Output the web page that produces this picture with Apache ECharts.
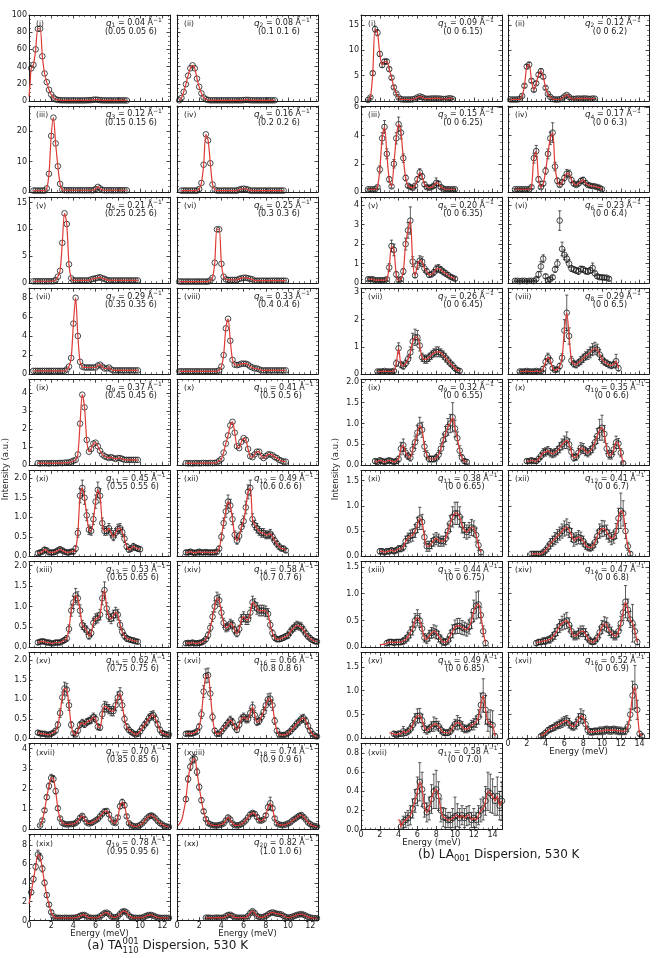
<!DOCTYPE html>
<html><head><meta charset="utf-8">
<script src="https://cdn.jsdelivr.net/npm/echarts@6/dist/echarts.min.js"></script>
<style>html,body{margin:0;padding:0;background:#fff}#c{width:658px;height:958px}</style>
</head><body><div id="c"></div>
<script>
// ================= DATA =================
// Energy grids: panel (a) points every 0.2 meV, panel (b) every 0.25 meV, starting at aStart / bStart
const aStep = 0.2, bStep = 0.25;
const aStart = [0.2,0.2,0.4,0.4,0.4,0.2,0.4,0.2,0.8,0.8,0.8,0.8,0.8,0.8,0.8,0.8,1.0,0.8,0.2,2.6];
const bStart = [0.75,0.25,0.75,0.75,0.75,0.75,1.75,1.25,1.5,2.0,2.0,2.5,2.75,3.0,3.5,3.5,4.25];

// (a) TA dispersion intensities
const a01 = [38,42,60,84,84,52,32,22,13,7.5,4,2,1.2,0.9,0.8,0.8,0.7,0.7,0.7,0.7,0.7,0.7,0.7,0.7,0.7,0.8,0.9,1.0,1.4,1.6,1.4,1.0,0.8,0.7,0.7,0.7,0.7,0.7,0.7,0.7,0.7,0.7,0.7,0.6];
const a02 = [0.8,3.5,10.5,19.5,29.5,38,41.5,38,26,16.5,9,4,2,1.2,0.8,0.8,0.8,0.8,0.8,0.8,0.8,0.8,0.8,0.8,0.8,0.8,0.8,0.8,0.8,1.0,1.3,1.2,0.9,0.8,0.8,0.8,0.8,0.8,0.8,0.8,0.8,0.8,0.8,0.8];
const a03 = [0.5,0.5,0.5,0.5,0.5,0.5,1.2,6,18.5,24.5,16,8.5,2.7,0.8,0.6,0.6,0.6,0.6,0.6,0.6,0.6,0.6,0.6,0.6,0.6,0.6,0.6,0.6,1.0,1.7,1.2,0.7,0.6,0.6,0.6,0.6,0.6,0.6,0.6,0.6,0.6,0.6,0.6];
const a04 = [0.5,0.5,0.5,0.5,0.5,0.5,0.5,0.5,1.0,3,9,19,17,9.5,2.5,0.8,0.5,0.5,0.5,0.5,0.5,0.5,0.5,0.5,0.5,0.5,0.8,1.0,1.1,1.0,0.8,0.5,0.5,0.5,0.5,0.5,0.5,0.5,0.5,0.5,0.5,0.5,0.5,0.5,0.5,0.5,0.5];
const a05 = [0.35,0.35,0.35,0.35,0.35,0.35,0.35,0.35,0.35,0.35,0.6,1.2,2.3,7.5,13,11,3.5,0.9,0.5,0.5,0.5,0.5,0.5,0.5,0.5,0.5,0.7,0.8,0.9,1.0,1.1,0.9,0.8,0.6,0.5,0.5,0.5,0.5,0.5,0.5,0.5,0.5,0.5,0.5,0.5,0.5,0.5,0.5];
const a06 = [0.3,0.3,0.3,0.3,0.3,0.3,0.3,0.3,0.3,0.3,0.3,0.3,0.3,0.3,0.5,1.0,3.8,10,10,3.6,1.2,0.7,0.6,0.6,0.6,0.6,0.6,0.8,0.9,1.0,1.0,0.9,0.8,0.7,0.45,0.45,0.45,0.45,0.45,0.45,0.45,0.45,0.45,0.45,0.45,0.45,0.45,0.45,0.45];
const a07 = [0.35,0.35,0.35,0.35,0.35,0.35,0.35,0.35,0.35,0.35,0.35,0.35,0.35,0.35,0.35,0.5,0.8,1.7,5.3,8,4,1.3,0.8,0.7,0.7,0.7,0.7,0.7,0.7,0.9,1.0,0.8,0.6,0.6,0.7,0.5,0.4,0.4,0.4,0.4,0.4,0.4,0.4,0.4,0.4,0.4,0.4,0.4];
const a08 = [0.3,0.3,0.3,0.3,0.3,0.3,0.3,0.3,0.3,0.3,0.3,0.3,0.3,0.3,0.3,0.3,0.3,0.3,0.4,0.8,2,4.8,5.8,3.5,1.5,1.0,0.95,1.0,1.1,1.1,1.1,1.0,0.8,0.7,0.6,0.6,0.5,0.4,0.4,0.4,0.4,0.4,0.4,0.4,0.4,0.4,0.4,0.4,0.4];
const a09 = [0.12,0.1,0.12,0.11,0.12,0.1,0.12,0.12,0.11,0.12,0.13,0.12,0.14,0.15,0.15,0.2,0.25,0.3,0.6,2.3,3.9,3.2,1.4,0.75,0.9,1.2,1.25,1.05,0.8,0.6,0.5,0.45,0.4,0.45,0.4,0.35,0.4,0.4,0.35,0.3,0.3,0.3,0.3,0.3,0.3,0.3];
const a10 = [0.12,0.11,0.12,0.1,0.12,0.12,0.11,0.12,0.13,0.12,0.12,0.13,0.12,0.13,0.15,0.25,0.35,0.7,1.2,1.65,2.2,2.4,1.8,1.05,0.95,1.3,1.5,1.4,0.9,0.5,0.45,0.6,0.75,0.75,0.5,0.4,0.5,0.6,0.6,0.55,0.45,0.4,0.3,0.25,0.2,0.2];
const a11 = [0.08,0.1,0.12,0.17,0.15,0.1,0.1,0.1,0.12,0.15,0.18,0.15,0.12,0.1,0.1,0.12,0.12,0.2,0.6,1.55,1.75,1.5,1.05,0.68,0.65,0.95,1.4,1.7,1.55,0.85,0.65,0.65,0.72,0.6,0.5,0.6,0.7,0.72,0.62,0.45,0.25,0.17,0.2,0.25,0.22,0.2,0.18];
const a12 = [0.1,0.1,0.12,0.1,0.09,0.1,0.12,0.1,0.1,0.11,0.1,0.1,0.1,0.1,0.12,0.2,0.5,0.85,1.15,1.4,1.3,0.95,0.55,0.4,0.52,0.75,0.9,1.25,1.65,1.75,0.95,0.8,0.72,0.65,0.6,0.6,0.55,0.55,0.58,0.5,0.4,0.32,0.25,0.2,0.2,0.15];
const a13 = [0.12,0.14,0.15,0.14,0.12,0.12,0.1,0.1,0.12,0.12,0.12,0.15,0.18,0.22,0.45,0.9,1.1,1.27,1.2,0.9,0.55,0.48,0.42,0.28,0.35,0.6,0.7,0.72,0.8,1.2,1.4,0.95,0.75,0.7,0.78,0.85,0.8,0.55,0.38,0.28,0.22,0.2,0.18,0.17,0.15,0.14];
const a14 = [0.1,0.11,0.1,0.12,0.1,0.1,0.11,0.12,0.15,0.2,0.3,0.48,0.75,1.0,1.2,1.15,0.85,0.6,0.48,0.5,0.58,0.55,0.42,0.34,0.45,0.68,0.75,0.68,0.68,0.85,1.1,1.05,0.95,0.9,0.9,0.9,0.88,0.82,0.55,0.35,0.24,0.2,0.2,0.22,0.24,0.27,0.3,0.38,0.45,0.5,0.54,0.52,0.5,0.42,0.34,0.27,0.22,0.18,0.15,0.14];
const a15 = [0.15,0.13,0.12,0.12,0.1,0.1,0.12,0.15,0.2,0.35,0.65,1.05,1.28,1.25,0.85,0.35,0.13,0.1,0.2,0.35,0.4,0.36,0.42,0.45,0.48,0.55,0.5,0.3,0.28,0.62,0.82,0.8,0.75,0.7,0.7,0.85,1.05,1.15,0.85,0.5,0.3,0.22,0.17,0.13,0.1,0.12,0.18,0.27,0.35,0.42,0.52,0.58,0.6,0.5,0.36,0.22,0.14,0.12,0.1,0.1];
const a16 = [0.12,0.13,0.12,0.13,0.15,0.18,0.3,0.62,1.2,1.6,1.62,1.15,0.55,0.2,0.12,0.12,0.18,0.26,0.33,0.4,0.47,0.42,0.3,0.22,0.35,0.5,0.55,0.5,0.5,0.65,0.8,0.6,0.42,0.45,0.55,0.68,0.85,1.0,1.02,0.85,0.45,0.2,0.1,0.09,0.09,0.1,0.14,0.18,0.25,0.31,0.38,0.43,0.5,0.52,0.45,0.32,0.2,0.12,0.07,0.05];
const a17 = [0.2,0.45,0.95,1.6,2.15,2.55,2.5,1.9,1.05,0.55,0.33,0.27,0.25,0.26,0.27,0.28,0.32,0.42,0.58,0.68,0.52,0.35,0.3,0.32,0.38,0.45,0.52,0.65,0.78,0.9,0.92,0.75,0.5,0.35,0.32,0.6,1.15,1.35,1.2,0.65,0.32,0.22,0.17,0.15,0.17,0.22,0.3,0.42,0.55,0.65,0.7,0.65,0.55,0.42,0.32,0.25,0.18,0.15,0.13];
const a18 = [1.5,2.5,3.1,3.45,3.5,2.85,2.1,1.45,0.9,0.52,0.32,0.26,0.22,0.2,0.2,0.22,0.25,0.3,0.45,0.6,0.5,0.3,0.22,0.2,0.22,0.27,0.35,0.45,0.6,0.75,0.82,0.78,0.62,0.45,0.44,0.5,0.7,1.1,1.3,1.05,0.55,0.3,0.25,0.22,0.22,0.25,0.3,0.35,0.45,0.52,0.6,0.68,0.72,0.62,0.5,0.35,0.27,0.2,0.17,0.15];
const a19 = [3.0,4.4,5.7,7.0,6.7,5.5,4.0,2.7,1.7,0.9,0.45,0.32,0.3,0.3,0.28,0.3,0.3,0.28,0.3,0.3,0.32,0.38,0.5,0.6,0.6,0.45,0.32,0.3,0.28,0.3,0.32,0.45,0.62,0.8,0.85,0.7,0.45,0.35,0.35,0.45,0.7,0.95,1.0,0.85,0.55,0.38,0.3,0.3,0.28,0.3,0.32,0.42,0.52,0.6,0.6,0.52,0.42,0.33,0.3,0.28,0.3,0.28,0.3];
const a20 = [0.3,0.32,0.3,0.28,0.3,0.32,0.3,0.3,0.32,0.45,0.6,0.62,0.5,0.35,0.32,0.3,0.32,0.3,0.32,0.5,0.8,1.0,0.8,0.5,0.38,0.35,0.4,0.5,0.65,0.8,0.87,0.8,0.72,0.7,0.65,0.5,0.38,0.32,0.35,0.42,0.5,0.6,0.65,0.7,0.62,0.52,0.4,0.32,0.28,0.25,0.25];

// fitted curve read below the first measured point: [energy, intensity]
const a01fitLead = [[0, 5], [0.1, 20]];
const a18fitLead = [[0.1, 0.2], [0.4, 0.45], [0.6, 0.9]];
const a19fitLead = [[0, 1.8]];

// (a) error bars (panels xi-xx)
const a11err = [0.05,0.05,0.05,0.06,0.06,0.05,0.05,0.05,0.05,0.06,0.06,0.06,0.05,0.05,0.05,0.05,0.05,0.07,0.11,0.18,0.2,0.17,0.14,0.12,0.11,0.14,0.17,0.2,0.18,0.13,0.11,0.11,0.12,0.11,0.1,0.11,0.12,0.12,0.11,0.1,0.07,0.06,0.07,0.08,0.07,0.07,0.06];
const a12err = [0.05,0.05,0.05,0.05,0.05,0.05,0.05,0.05,0.05,0.05,0.05,0.05,0.05,0.05,0.05,0.06,0.1,0.13,0.15,0.17,0.16,0.14,0.1,0.09,0.1,0.12,0.13,0.16,0.18,0.2,0.14,0.12,0.12,0.11,0.11,0.11,0.1,0.1,0.11,0.1,0.09,0.08,0.07,0.06,0.06,0.05];
const a13err = [0.05,0.05,0.05,0.05,0.05,0.05,0.04,0.04,0.05,0.05,0.05,0.05,0.06,0.07,0.1,0.14,0.15,0.17,0.16,0.14,0.11,0.1,0.1,0.08,0.09,0.11,0.12,0.12,0.13,0.16,0.2,0.14,0.12,0.12,0.13,0.13,0.13,0.11,0.09,0.08,0.07,0.06,0.06,0.06,0.05,0.05];
const a14err = [0.05,0.05,0.05,0.05,0.05,0.05,0.05,0.05,0.05,0.06,0.08,0.1,0.12,0.14,0.15,0.15,0.13,0.11,0.1,0.1,0.11,0.1,0.09,0.08,0.09,0.12,0.12,0.12,0.12,0.13,0.15,0.14,0.14,0.13,0.13,0.13,0.13,0.13,0.1,0.08,0.07,0.06,0.06,0.07,0.07,0.07,0.08,0.09,0.09,0.1,0.1,0.1,0.1,0.09,0.08,0.07,0.07,0.06,0.05,0.05];
const a15err = [0.05,0.05,0.05,0.05,0.04,0.04,0.05,0.05,0.06,0.08,0.11,0.14,0.16,0.16,0.13,0.08,0.05,0.04,0.06,0.08,0.09,0.08,0.09,0.09,0.1,0.1,0.1,0.08,0.07,0.11,0.13,0.13,0.12,0.12,0.12,0.13,0.14,0.15,0.13,0.1,0.08,0.07,0.06,0.05,0.04,0.05,0.06,0.07,0.08,0.09,0.1,0.11,0.11,0.1,0.08,0.07,0.05,0.05,0.04,0.04];
const a16err = [0.05,0.05,0.05,0.05,0.05,0.06,0.08,0.11,0.15,0.18,0.18,0.15,0.1,0.06,0.05,0.05,0.06,0.07,0.08,0.09,0.1,0.09,0.08,0.07,0.08,0.1,0.1,0.1,0.1,0.11,0.13,0.11,0.09,0.09,0.1,0.12,0.13,0.14,0.14,0.13,0.09,0.06,0.04,0.04,0.04,0.04,0.05,0.06,0.07,0.08,0.09,0.09,0.1,0.1,0.09,0.08,0.06,0.05,0.04,0.03];
const a17err = [0.04,0.06,0.09,0.12,0.15,0.18,0.17,0.14,0.1,0.07,0.06,0.05,0.05,0.05,0.05,0.05,0.06,0.06,0.08,0.08,0.07,0.06,0.05,0.06,0.06,0.07,0.07,0.08,0.09,0.1,0.1,0.09,0.07,0.06,0.06,0.08,0.12,0.15,0.13,0.08,0.06,0.05,0.04,0.04,0.04,0.05,0.05,0.06,0.07,0.08,0.09,0.08,0.07,0.06,0.05,0.05,0.04,0.04,0.04];
const a18err = [0.12,0.16,0.18,0.2,0.2,0.18,0.15,0.12,0.1,0.07,0.06,0.05,0.05,0.05,0.05,0.05,0.05,0.06,0.07,0.08,0.07,0.06,0.05,0.05,0.05,0.05,0.06,0.07,0.08,0.09,0.09,0.09,0.08,0.07,0.07,0.07,0.09,0.15,0.3,0.12,0.08,0.06,0.05,0.05,0.05,0.05,0.06,0.06,0.07,0.07,0.08,0.08,0.09,0.08,0.07,0.06,0.05,0.05,0.04,0.04];
const a19err = [0.25,0.3,0.35,0.45,0.4,0.35,0.3,0.25,0.2,0.15,0.1,0.08,0.08,0.08,0.08,0.08,0.08,0.08,0.08,0.08,0.08,0.09,0.1,0.11,0.11,0.1,0.08,0.08,0.08,0.08,0.08,0.1,0.11,0.13,0.13,0.12,0.1,0.09,0.09,0.1,0.12,0.15,0.15,0.13,0.11,0.09,0.08,0.08,0.08,0.08,0.08,0.09,0.1,0.11,0.11,0.1,0.09,0.08,0.08,0.08,0.08,0.08,0.08];
const a20err = [0.08,0.08,0.08,0.08,0.08,0.08,0.08,0.08,0.08,0.1,0.11,0.11,0.1,0.09,0.08,0.08,0.08,0.08,0.08,0.1,0.12,0.14,0.12,0.1,0.09,0.09,0.09,0.1,0.11,0.12,0.13,0.12,0.12,0.11,0.11,0.1,0.09,0.08,0.09,0.09,0.1,0.11,0.11,0.12,0.11,0.1,0.09,0.08,0.08,0.07,0.07];

// (b) LA dispersion intensities
const b01 = [0.2,0.7,5.5,14.2,13.5,9.3,7.1,7.8,7.8,6.3,4.6,2.7,1.5,0.7,0.35,0.3,0.3,0.3,0.3,0.35,0.45,0.7,0.9,0.75,0.5,0.45,0.45,0.5,0.5,0.5,0.5,0.45,0.4,0.4,0.5,0.55,0.4];
const b02 = [0.3,0.3,0.3,0.3,0.4,1.0,3.0,6.8,7.2,4.0,2.2,3.5,5.2,5.9,4.8,2.6,1.4,0.8,0.4,0.3,0.3,0.35,0.5,0.9,1.2,0.8,0.45,0.4,0.45,0.5,0.45,0.5,0.5,0.45,0.4,0.5,0.45];
const b03 = [0.2,0.2,0.2,0.2,0.35,1.6,3.8,4.6,2.7,0.9,0.4,2.0,3.8,4.8,4.2,2.4,1.0,0.45,0.35,0.3,0.45,0.9,1.4,1.1,0.55,0.35,0.3,0.35,0.45,0.65,0.6,0.35,0.25,0.2,0.2,0.2,0.2,0.2];
const b04 = [0.2,0.2,0.2,0.2,0.2,0.2,0.2,0.35,2.4,2.9,0.9,0.35,0.6,1.5,2.7,3.8,4.2,1.8,0.8,0.5,0.7,1.0,1.3,1.3,0.85,0.6,0.5,0.6,0.78,0.85,0.65,0.5,0.45,0.42,0.4,0.35,0.3,0.2];
const b05 = [0.2,0.2,0.2,0.15,0.15,0.15,0.15,0.15,0.2,0.8,1.9,1.7,0.45,0.15,0.2,0.6,2.0,2.7,3.2,1.1,0.4,0.9,1.15,1.1,0.75,0.6,0.42,0.45,0.55,0.72,0.75,0.68,0.58,0.5,0.42,0.33,0.28,0.22];
const b06 = [0.12,0.12,0.1,0.12,0.12,0.1,0.12,0.12,0.1,0.2,0.45,0.85,1.25,0.35,0.15,0.2,0.3,0.7,1.0,3.2,1.75,1.45,1.25,1.0,0.75,0.7,0.65,0.6,0.72,0.7,0.62,0.6,0.65,0.78,0.5,0.35,0.3,0.3,0.28,0.28,0.22];
const b07 = [0.1,0.1,0.1,0.12,0.1,0.1,0.1,0.12,0.4,0.95,0.35,0.3,0.4,0.55,0.8,1.2,1.35,1.35,1.05,0.62,0.55,0.55,0.62,0.7,0.78,0.82,0.82,0.78,0.7,0.6,0.5,0.4,0.32,0.22,0.15,0.12];
const b08 = [0.1,0.1,0.1,0.12,0.1,0.1,0.1,0.12,0.1,0.1,0.2,0.45,0.62,0.5,0.22,0.15,0.18,0.3,0.6,1.6,2.25,1.4,0.5,0.38,0.35,0.42,0.5,0.58,0.67,0.72,0.8,0.9,0.95,0.9,0.72,0.55,0.45,0.4,0.35,0.32,0.35,0.48,0.22];
const b09 = [0.1,0.08,0.12,0.1,0.08,0.1,0.12,0.1,0.08,0.1,0.15,0.4,0.48,0.3,0.22,0.18,0.38,0.55,0.78,0.95,0.85,0.45,0.25,0.15,0.15,0.15,0.18,0.25,0.4,0.6,0.75,0.92,1.0,1.15,0.88,0.65,0.35,0.18,0.1,0.08];
const b10 = [0.1,0.1,0.12,0.1,0.1,0.15,0.22,0.3,0.32,0.35,0.3,0.28,0.3,0.35,0.42,0.5,0.55,0.6,0.5,0.32,0.18,0.2,0.3,0.42,0.4,0.33,0.3,0.35,0.42,0.55,0.7,0.85,0.9,0.75,0.4,0.25,0.25,0.38,0.55,0.52,0.3,0.05];
const b11 = [0.1,0.1,0.08,0.1,0.1,0.12,0.1,0.12,0.15,0.15,0.18,0.3,0.36,0.4,0.42,0.5,0.62,0.75,0.68,0.38,0.2,0.2,0.25,0.32,0.35,0.32,0.3,0.3,0.35,0.5,0.65,0.78,0.85,0.85,0.78,0.62,0.52,0.48,0.52,0.57,0.55,0.42,0.22,0.08];
const b12 = [0.05,0.05,0.05,0.05,0.05,0.08,0.12,0.18,0.25,0.3,0.35,0.4,0.45,0.5,0.55,0.58,0.52,0.42,0.32,0.35,0.38,0.36,0.3,0.22,0.18,0.17,0.2,0.28,0.4,0.5,0.55,0.55,0.48,0.4,0.35,0.38,0.5,0.75,0.9,0.85,0.5,0.2,0.05];
const b13 = [0.08,0.1,0.1,0.09,0.1,0.1,0.1,0.12,0.15,0.2,0.28,0.35,0.5,0.55,0.5,0.35,0.18,0.15,0.22,0.27,0.3,0.28,0.2,0.15,0.1,0.1,0.13,0.22,0.3,0.38,0.4,0.4,0.37,0.35,0.33,0.38,0.5,0.68,0.78,0.8,0.6,0.3,0.08];
const b14 = [0.08,0.1,0.1,0.12,0.12,0.14,0.15,0.2,0.25,0.32,0.4,0.45,0.48,0.5,0.42,0.3,0.22,0.22,0.26,0.3,0.3,0.25,0.17,0.12,0.1,0.12,0.18,0.28,0.38,0.44,0.42,0.32,0.28,0.22,0.22,0.3,0.45,0.65,0.85,0.7,0.52,0.45,0.3,0.1];
const b15 = [0.1,0.08,0.1,0.1,0.15,0.12,0.15,0.2,0.28,0.4,0.47,0.48,0.38,0.22,0.17,0.2,0.25,0.3,0.3,0.26,0.18,0.13,0.12,0.12,0.15,0.22,0.3,0.33,0.32,0.25,0.2,0.2,0.22,0.28,0.3,0.35,0.45,0.7,0.9,0.6,0.35,0.3,0.28,0.05];
const b16 = [0.05,0.08,0.12,0.17,0.2,0.22,0.25,0.28,0.3,0.33,0.36,0.38,0.32,0.26,0.25,0.3,0.4,0.47,0.45,0.3,0.17,0.14,0.14,0.15,0.15,0.16,0.16,0.17,0.18,0.17,0.17,0.18,0.17,0.16,0.16,0.15,0.16,0.25,0.5,0.9,1.08,0.6,0.1,0.05];
const b17 = [0.03,0.08,0.1,0.12,0.15,0.22,0.3,0.4,0.5,0.42,0.25,0.18,0.22,0.32,0.4,0.42,0.35,0.2,0.13,0.12,0.1,0.1,0.12,0.14,0.15,0.12,0.15,0.12,0.14,0.15,0.1,0.12,0.1,0.15,0.2,0.22,0.3,0.4,0.38,0.35,0.3,0.35,0.25,0.3];

// fitted curve read before the first measured point: [energy, intensity]
const b13fitLead = [[2.0, 0.05], [2.5, 0.06]];
const b15fitLead = [[3.0, 0.12], [3.25, 0.11]];
const b17fitLead = [[3.9, 0.1], [4.1, 0.1]];

// (b) error bars
const b01err = [0.1,0.2,0.4,0.6,0.6,0.5,0.45,0.45,0.45,0.4,0.35,0.3,0.2,0.15,0.1,0.1,0.1,0.1,0.1,0.1,0.12,0.15,0.17,0.15,0.12,0.12,0.12,0.12,0.12,0.12,0.12,0.12,0.11,0.11,0.12,0.12,0.11];
const b02err = [0.1,0.1,0.1,0.1,0.12,0.2,0.3,0.4,0.45,0.35,0.3,0.35,0.4,0.45,0.4,0.3,0.2,0.15,0.12,0.1,0.1,0.1,0.12,0.15,0.18,0.15,0.12,0.12,0.12,0.12,0.12,0.12,0.12,0.12,0.11,0.12,0.12];
const b03err = [0.05,0.05,0.05,0.05,0.08,0.25,0.4,0.45,0.35,0.2,0.12,0.3,0.4,0.5,0.45,0.3,0.2,0.12,0.1,0.1,0.12,0.2,0.25,0.2,0.15,0.1,0.1,0.1,0.12,0.35,0.15,0.1,0.08,0.07,0.07,0.07,0.07,0.07];
const b04err = [0.05,0.05,0.05,0.05,0.05,0.05,0.05,0.1,0.35,0.4,0.2,0.1,0.15,0.25,0.35,0.45,0.7,0.3,0.2,0.12,0.15,0.2,0.3,0.25,0.2,0.15,0.12,0.15,0.2,0.2,0.15,0.12,0.12,0.12,0.1,0.1,0.1,0.08];
const b05err = [0.07,0.07,0.07,0.06,0.06,0.06,0.06,0.06,0.07,0.2,0.3,0.3,0.15,0.06,0.07,0.15,0.3,0.4,0.7,0.25,0.12,0.2,0.25,0.25,0.2,0.15,0.12,0.12,0.15,0.2,0.2,0.18,0.16,0.15,0.12,0.1,0.1,0.08];
const b06err = [0.04,0.04,0.04,0.04,0.04,0.04,0.04,0.04,0.04,0.08,0.15,0.25,0.2,0.1,0.06,0.08,0.1,0.15,0.2,0.5,0.35,0.25,0.2,0.2,0.15,0.15,0.15,0.15,0.15,0.15,0.15,0.15,0.15,0.25,0.12,0.1,0.1,0.1,0.1,0.08,0.08];
const b07err = [0.05,0.05,0.05,0.05,0.05,0.05,0.05,0.05,0.12,0.2,0.12,0.12,0.12,0.15,0.2,0.3,0.3,0.25,0.2,0.15,0.15,0.15,0.15,0.15,0.15,0.18,0.18,0.15,0.15,0.15,0.13,0.12,0.12,0.1,0.08,0.07];
const b08err = [0.05,0.05,0.05,0.05,0.05,0.05,0.05,0.05,0.05,0.05,0.08,0.12,0.15,0.12,0.08,0.07,0.07,0.1,0.15,0.4,0.65,0.3,0.15,0.12,0.12,0.12,0.15,0.15,0.15,0.18,0.2,0.22,0.22,0.2,0.18,0.15,0.12,0.12,0.12,0.12,0.12,0.25,0.1];
const b09err = [0.05,0.05,0.05,0.05,0.05,0.05,0.05,0.05,0.05,0.05,0.07,0.15,0.15,0.1,0.08,0.08,0.12,0.15,0.18,0.2,0.18,0.12,0.1,0.07,0.07,0.07,0.08,0.1,0.12,0.15,0.18,0.2,0.22,0.35,0.2,0.15,0.12,0.08,0.05,0.05];
const b10err = [0.05,0.05,0.05,0.05,0.05,0.07,0.08,0.1,0.1,0.1,0.1,0.1,0.1,0.1,0.12,0.13,0.15,0.2,0.13,0.1,0.08,0.08,0.1,0.12,0.12,0.1,0.1,0.1,0.12,0.14,0.18,0.25,0.3,0.2,0.12,0.1,0.1,0.12,0.15,0.12,0.1,0.05];
const b11err = [0.05,0.05,0.05,0.05,0.05,0.05,0.05,0.05,0.06,0.06,0.07,0.1,0.1,0.12,0.12,0.13,0.15,0.22,0.15,0.12,0.1,0.1,0.1,0.12,0.12,0.12,0.1,0.1,0.12,0.14,0.16,0.2,0.22,0.22,0.2,0.16,0.15,0.14,0.15,0.16,0.15,0.14,0.1,0.05];
const b12err = [0.04,0.04,0.04,0.04,0.04,0.05,0.06,0.08,0.1,0.1,0.12,0.13,0.13,0.14,0.15,0.16,0.15,0.13,0.12,0.12,0.13,0.12,0.1,0.08,0.07,0.07,0.08,0.1,0.12,0.14,0.16,0.15,0.14,0.12,0.12,0.12,0.15,0.2,0.35,0.25,0.15,0.08,0.04];
const b13err = [0.05,0.05,0.05,0.05,0.05,0.05,0.05,0.06,0.07,0.08,0.1,0.12,0.13,0.15,0.13,0.1,0.08,0.08,0.1,0.1,0.12,0.12,0.1,0.08,0.06,0.06,0.07,0.1,0.12,0.13,0.14,0.14,0.13,0.12,0.12,0.13,0.15,0.2,0.25,0.25,0.15,0.1,0.05];
const b14err = [0.05,0.05,0.05,0.06,0.06,0.06,0.07,0.08,0.1,0.1,0.12,0.13,0.14,0.15,0.13,0.1,0.08,0.08,0.1,0.1,0.1,0.1,0.07,0.06,0.05,0.06,0.07,0.1,0.12,0.13,0.13,0.1,0.1,0.08,0.08,0.1,0.13,0.15,0.3,0.2,0.15,0.35,0.12,0.05];
const b15err = [0.05,0.05,0.05,0.05,0.1,0.06,0.07,0.08,0.1,0.12,0.15,0.15,0.13,0.1,0.08,0.08,0.1,0.15,0.12,0.1,0.08,0.07,0.06,0.06,0.07,0.08,0.1,0.15,0.12,0.1,0.08,0.08,0.08,0.1,0.12,0.12,0.15,0.25,0.35,0.3,0.2,0.3,0.3,0.05];
const b16err = [0.03,0.04,0.05,0.06,0.07,0.07,0.08,0.08,0.09,0.1,0.1,0.1,0.1,0.08,0.08,0.1,0.12,0.15,0.13,0.1,0.08,0.07,0.07,0.07,0.07,0.08,0.08,0.08,0.08,0.08,0.08,0.08,0.08,0.08,0.08,0.07,0.08,0.1,0.12,0.3,0.45,0.2,0.05,0.03];
const b17err = [0.05,0.06,0.08,0.08,0.1,0.1,0.12,0.15,0.2,0.18,0.12,0.1,0.12,0.15,0.18,0.2,0.15,0.12,0.1,0.1,0.08,0.08,0.1,0.2,0.12,0.1,0.1,0.1,0.1,0.1,0.08,0.1,0.08,0.1,0.12,0.12,0.15,0.2,0.2,0.18,0.15,0.2,0.15,0.2];

// Panel annotations
const roman = ['(i)','(ii)','(iii)','(iv)','(v)','(vi)','(vii)','(viii)','(ix)','(x)','(xi)','(xii)','(xiii)','(xiv)','(xv)','(xvi)','(xvii)','(xviii)','(xix)','(xx)'];
const aQ = ['0.04','0.08','0.12','0.16','0.21','0.25','0.29','0.33','0.37','0.41','0.45','0.49','0.53','0.58','0.62','0.66','0.70','0.74','0.78','0.82'];
const aHKL = ['(0.05 0.05 6)','(0.1 0.1 6)','(0.15 0.15 6)','(0.2 0.2 6)','(0.25 0.25 6)','(0.3 0.3 6)','(0.35 0.35 6)','(0.4 0.4 6)','(0.45 0.45 6)','(0.5 0.5 6)','(0.55 0.55 6)','(0.6 0.6 6)','(0.65 0.65 6)','(0.7 0.7 6)','(0.75 0.75 6)','(0.8 0.8 6)','(0.85 0.85 6)','(0.9 0.9 6)','(0.95 0.95 6)','(1.0 1.0 6)'];
const bQ = ['0.09','0.12','0.15','0.17','0.20','0.23','0.26','0.29','0.32','0.35','0.38','0.41','0.44','0.47','0.49','0.52','0.58'];
const bHKL = ['(0 0 6.15)','(0 0 6.2)','(0 0 6.25)','(0 0 6.3)','(0 0 6.35)','(0 0 6.4)','(0 0 6.45)','(0 0 6.5)','(0 0 6.55)','(0 0 6.6)','(0 0 6.65)','(0 0 6.7)','(0 0 6.75)','(0 0 6.8)','(0 0 6.85)','(0 0 6.9)','(0 0 7.0)'];

// Axis ranges per row, tick intervals, tick label decimals
const aXmax = 12.7, bXmax = 15, xTickStep = 2;
const aYmax = [100, 28.3, 16, 9, 4.75, 2.2, 2.1, 2.2, 4.25, 9.1];
const aYint = [20, 10, 5, 2, 1, 0.5, 0.5, 0.5, 1, 2];
const aYdec = [0,0,0,0,0,1,1,1,0,0];
const bYmax = [17, 6.08, 4.4, 3.15, 2.06, 1.7, 1.6, 1.8, 0.9];
const bYint = [5, 2, 1, 1, 0.5, 0.5, 0.5, 0.5, 0.2];
const bYdec = [0,0,0,0,1,1,1,1,1];
const bNoFit = [5]; // panel (b)(vi) has no fitted curve

// ================= LAYOUT / DRAW =================
const aVals = [a01,a02,a03,a04,a05,a06,a07,a08,a09,a10,a11,a12,a13,a14,a15,a16,a17,a18,a19,a20];
const aErrs = [null,null,null,null,null,null,null,null,null,null,a11err,a12err,a13err,a14err,a15err,a16err,a17err,a18err,a19err,a20err];
const aLead = {0:a01fitLead, 17:a18fitLead, 18:a19fitLead};
const bVals = [b01,b02,b03,b04,b05,b06,b07,b08,b09,b10,b11,b12,b13,b14,b15,b16,b17];
const bErrs = [b01err,b02err,b03err,b04err,b05err,b06err,b07err,b08err,b09err,b10err,b11err,b12err,b13err,b14err,b15err,b16err,b17err];
const bLead = {12:b13fitLead, 14:b15fitLead, 16:b17fitLead};

const INK = '#1a1a1a', RED = '#dd3b36', FONT = 'DejaVu Sans';
const PW = 141, PH = 86;
const rowTop = r => 15 + 91.07 * r;
const aLeft = [29, 177], bLeft = [361, 508];

const mctx = document.createElement('canvas').getContext('2d');
function tw(t, size, it) { mctx.font = (it ? 'italic ' : '') + size + 'px "' + FONT + '"'; return mctx.measureText(t).width; }
function T(text, x, y, size, o) {
  o = o || {};
  const al = o.align || 'left', va = o.va || 'middle';
  return {type:'text', x:x, y:y, rotation:o.rot || 0, silent:true, z:100,
    style:{text:text, fontSize:size, fontFamily:FONT, fontStyle:o.it ? 'italic' : 'normal', fill:o.fill || INK,
      align:al, verticalAlign:va, textAlign:al, textVerticalAlign:va}};
}
function layout(parts, x, y) {
  let cx = x; const els = [];
  parts.forEach(p => {
    els.push(T(p.t, cx, y + (p.dy || 0), p.s, {it:p.it}));
    if (!p.stay) cx += (p.w != null ? p.w : tw(p.t, p.s, p.it)) + (p.gap || 0);
  });
  return {els, width: cx - x};
}
function measure(parts) { return layout(parts, 0, 0).width; }

const isMult = (v, iv) => Math.abs(v / iv - Math.round(v / iv)) < 1e-6;
const minorSplit = iv => ({20:4, 10:5, 5:5, 2:4, 1:5, 0.5:5, 0.2:4})[iv] || 4;

const option = {animation:false, backgroundColor:'#fff', grid:[], xAxis:[], yAxis:[], series:[], graphic:[]};
const G = option.graphic;

function addPanel(p) {
  const gi = option.grid.length;
  option.grid.push({left:p.left, top:p.top, width:PW, height:PH});
  const tick = {show:true, inside:true, length:3.5, lineStyle:{color:INK, width:0.8}};
  const line = {show:true, onZero:false, lineStyle:{color:INK, width:1}};
  const xi = option.xAxis.length;
  const xBase = {type:'value', gridIndex:gi, min:0, max:p.xmax, interval:xTickStep, splitLine:{show:false},
    axisLine:line, axisTick:tick, minorTick:{show:true, splitNumber:4, length:2, lineStyle:{color:INK, width:0.6}}};
  option.xAxis.push(Object.assign({}, xBase, {position:'bottom',
    axisLabel:{show:p.showX, fontSize:8, fontFamily:FONT, color:INK, margin:1.5, formatter:v => isMult(v, xTickStep) ? String(Math.round(v)) : ''}}));
  option.xAxis.push(Object.assign({}, xBase, {position:'top', axisLabel:{show:false}}));
  const yi = option.yAxis.length;
  const yBase = {type:'value', gridIndex:gi, min:0, max:p.ymax, interval:p.yint, splitLine:{show:false},
    axisLine:line, axisTick:tick, minorTick:{show:true, splitNumber:minorSplit(p.yint), length:2, lineStyle:{color:INK, width:0.6}}};
  option.yAxis.push(Object.assign({}, yBase, {position:'left',
    axisLabel:{show:p.showY, fontSize:8, fontFamily:FONT, color:INK, margin:2, formatter:v => isMult(v, p.yint) ? v.toFixed(p.ydec) : ''}}));
  option.yAxis.push(Object.assign({}, yBase, {position:'right', axisLabel:{show:false}}));

  const pts = p.vals.map((v, i) => [+(p.start + i * p.step).toFixed(3), v]);
  if (p.errs) {
    option.series.push({type:'custom', xAxisIndex:xi, yAxisIndex:yi, silent:true, clip:true, z:2,
      data:pts.map((d, i) => [d[0], d[1], p.errs[i] || 0]), encode:{x:0, y:1},
      renderItem:(params, api) => {
        const x = api.value(0), y = api.value(1), e = api.value(2);
        const a = api.coord([x, y - e]), b = api.coord([x, y + e]);
        const st = {stroke:INK, lineWidth:0.7};
        return {type:'group', children:[
          {type:'line', shape:{x1:a[0], y1:a[1], x2:b[0], y2:b[1]}, style:st},
          {type:'line', shape:{x1:b[0]-1.6, y1:b[1], x2:b[0]+1.6, y2:b[1]}, style:st},
          {type:'line', shape:{x1:a[0]-1.6, y1:a[1], x2:a[0]+1.6, y2:a[1]}, style:st}]};
      }});
  }
  option.series.push({type:'scatter', xAxisIndex:xi, yAxisIndex:yi, data:pts, symbol:'circle', symbolSize:5.6, silent:true, z:3,
    itemStyle:{color:'rgba(255,255,255,0)', borderColor:'#1c1c1c', borderWidth:1}});
  if (p.fit) {
    const fitPts = (p.lead || []).concat(pts);
    option.series.push({type:'line', xAxisIndex:xi, yAxisIndex:yi, data:fitPts, showSymbol:false, symbol:'none', smooth:0.3,
      silent:true, z:4, clip:true, lineStyle:{color:RED, width:1.2}});
  }
  // annotations
  G.push(T(p.roman, p.left + 7, p.top + 9, 7.5));
  const l1 = [{t:'q', s:8.8, it:true}, {t:String(p.n), s:6, dy:2.6}, {t:' = ' + p.q + ' \u00c5', s:8}, {t:'\u22121', s:6, dy:-3}];
  const x1 = p.left + 77;
  const r1 = layout(l1, x1, p.top + 8.3);
  r1.els.forEach(e => G.push(e));
  G.push(T(p.hkl, x1 + r1.width / 2 - 3, p.top + 16.8, 8, {align:'center'}));
}

for (let k = 0; k < 20; k++) {
  const r = Math.floor(k / 2), c = k % 2;
  addPanel({left:aLeft[c], top:rowTop(r), xmax:aXmax, ymax:aYmax[r], yint:aYint[r], ydec:aYdec[r], showX:k >= 18, showY:c === 0,
    vals:aVals[k], errs:aErrs[k], start:aStart[k], step:aStep, fit:true, lead:aLead[k],
    roman:roman[k], n:k + 1, q:aQ[k], hkl:aHKL[k]});
}
for (let k = 0; k < 17; k++) {
  const r = Math.floor(k / 2), c = k % 2;
  addPanel({left:bLeft[c], top:rowTop(r), xmax:bXmax, ymax:bYmax[r], yint:bYint[r], ydec:bYdec[r], showX:k === 15 || k === 16, showY:c === 0,
    vals:bVals[k], errs:bErrs[k], start:bStart[k], step:bStep, fit:bNoFit.indexOf(k) < 0, lead:bLead[k],
    roman:roman[k], n:k + 1, q:bQ[k], hkl:bHKL[k]});
}

// axis titles
G.push(T('Intensity (a.u.)', 6, 469, 8.5, {align:'center', rot:Math.PI / 2}));
G.push(T('Intensity (a.u.)', 335.5, 469, 8.5, {align:'center', rot:Math.PI / 2}));
const bot = r => rowTop(r) + PH;
G.push(T('Energy (meV)', aLeft[0] + PW / 2, bot(9) + 13.3, 8.5, {align:'center'}));
G.push(T('Energy (meV)', aLeft[1] + PW / 2, bot(9) + 13.3, 8.5, {align:'center'}));
G.push(T('Energy (meV)', bLeft[1] + PW / 2, bot(7) + 13.3, 8.5, {align:'center'}));
G.push(T('Energy (meV)', bLeft[0] + PW / 2, bot(8) + 13.3, 8.5, {align:'center'}));

// figure captions
(function () {
  const fs = 12, ss = 8.5;
  const wStack = Math.max(tw('001', ss), tw('110', ss));
  const partsA = [{t:'(a) TA', s:fs}, {t:'001', s:ss, dy:-4.5, stay:true}, {t:'110', s:ss, dy:4.8, w:wStack}, {t:' Dispersion, 530 K', s:fs}];
  const wa = measure(partsA);
  layout(partsA, 167.7 - wa / 2, 946).els.forEach(e => G.push(e));
  const partsB = [{t:'(b) LA', s:fs}, {t:'001', s:ss, dy:4.5}, {t:' Dispersion, 530 K', s:fs}];
  const wb = measure(partsB);
  layout(partsB, 498.7 - wb / 2, 854.5).els.forEach(e => G.push(e));
})();

const chart = echarts.init(document.getElementById('c'), null, {renderer:'canvas', width:658, height:958});
chart.setOption(option);
</script>
</body></html>
